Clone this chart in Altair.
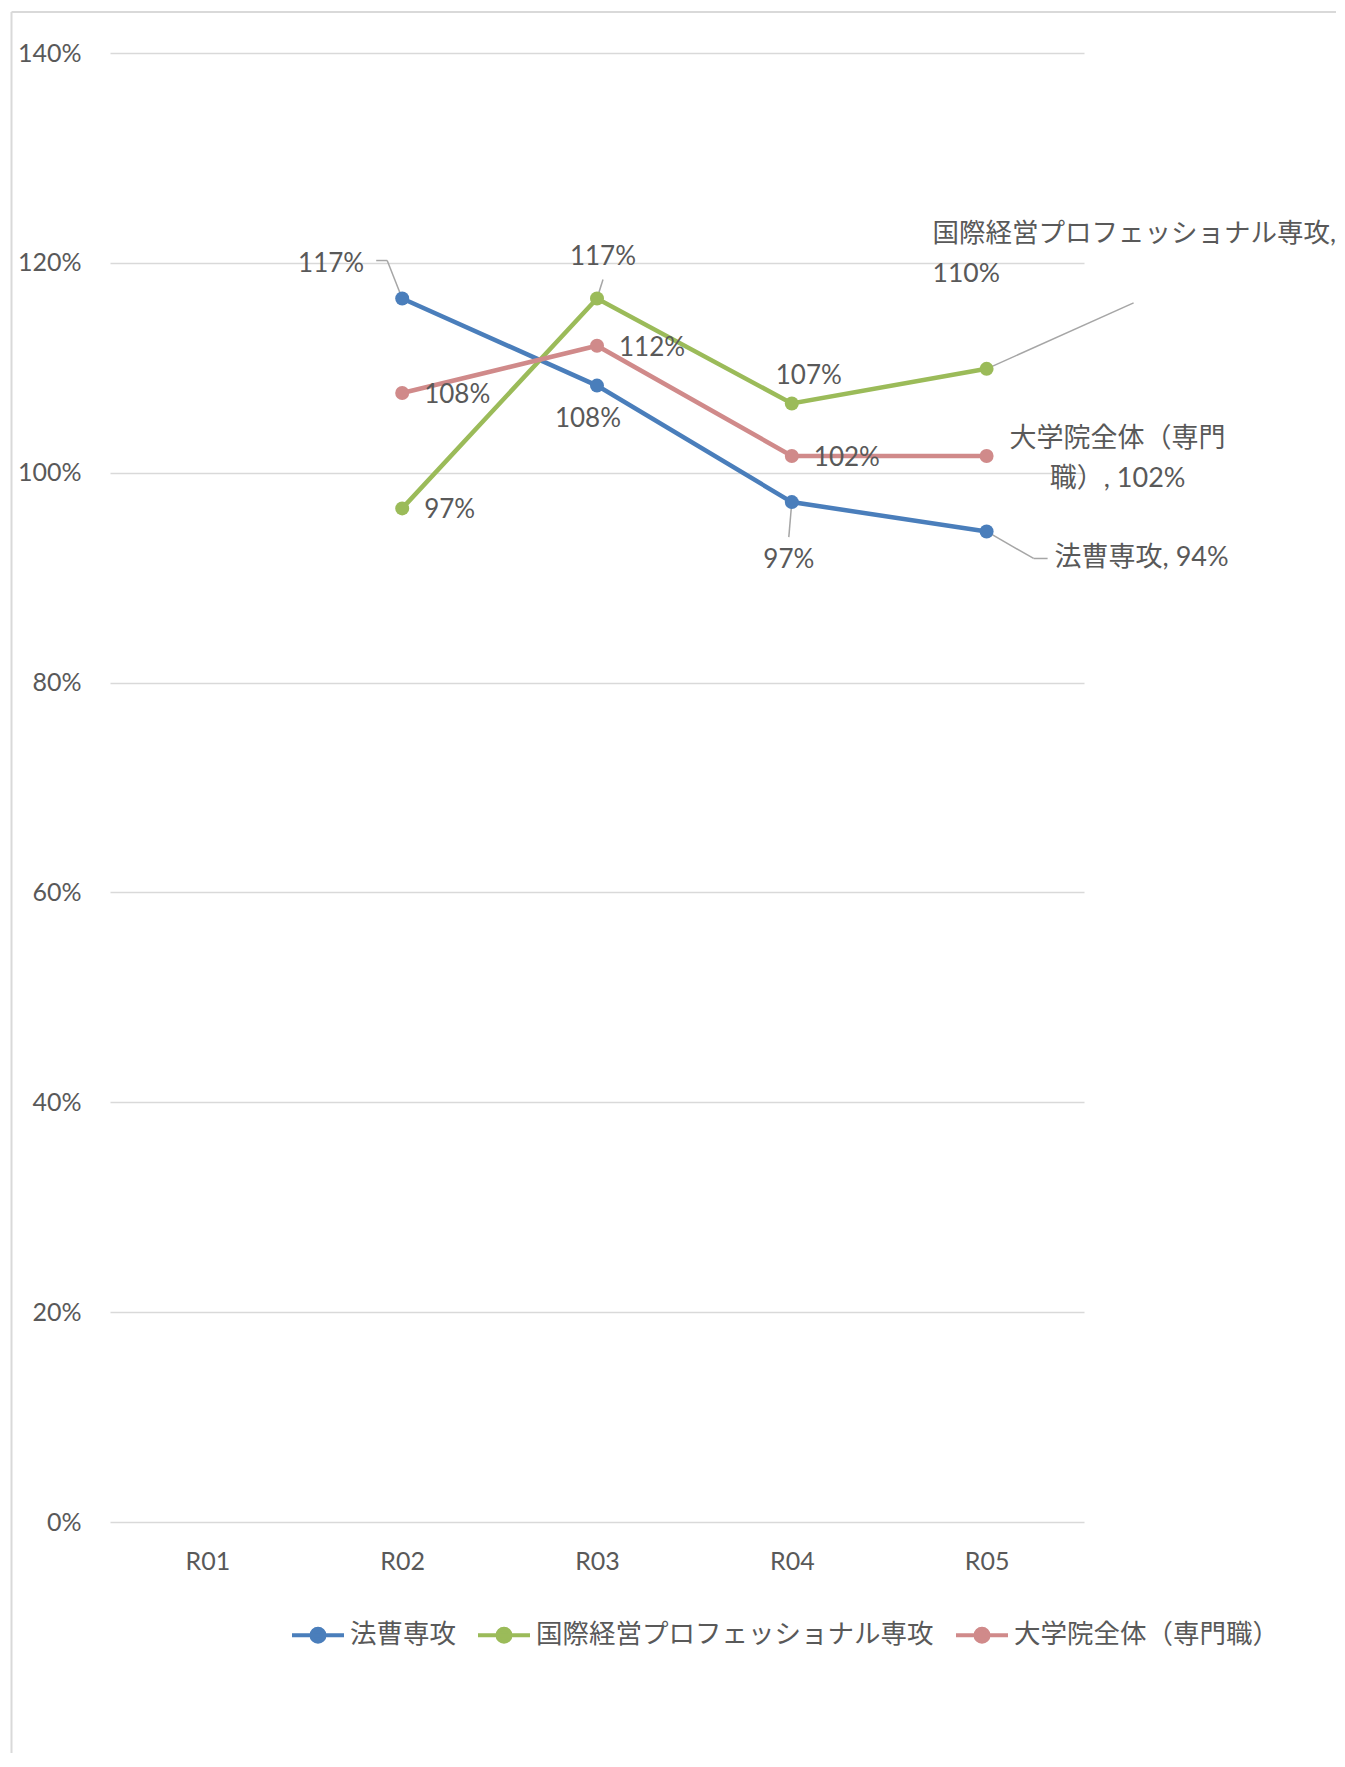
import altair as alt
import pandas as pd

categories = ["R01", "R02", "R03", "R04", "R05"]
series_names = ["法曹専攻", "国際経営プロフェッショナル専攻", "大学院全体（専門職）"]
hoso = [None, 1.166, 1.083, 0.972, 0.944]
kokusai = [None, 0.966, 1.166, 1.066, 1.099]
zentai = [None, 1.076, 1.121, 1.016, 1.016]
colors = ["#4A7EBB", "#9BBB59", "#D08A8A"]
y_ticks = [0, 0.2, 0.4, 0.6, 0.8, 1.0, 1.2, 1.4]

FONT = "Lato, 'Noto Sans CJK JP', sans-serif"
TXT = "#595959"

rows = []
for name, vals in zip(series_names, [hoso, kokusai, zentai]):
    for c, v in zip(categories, vals):
        if v is None:
            continue
        pct = f"{round(v * 100)}%"
        label = pct
        if c == "R05":
            if name == series_names[0]:
                label = f"{name}, {pct}"
            elif name == series_names[1]:
                label = f"{name},\n{pct}"
            else:
                label = f"大学院全体（専門\n職）, {pct}"
        rows.append({"series": name, "cat": c, "value": v, "label": label})
df = pd.DataFrame(rows)

xenc = alt.X("cat:O", scale=alt.Scale(type="point", padding=0.5, domain=categories),
             axis=alt.Axis(domain=False, ticks=False, grid=False, labelPadding=27,
                           labelAngle=0, labelAlign="center", labelBaseline="top",
                           title=None, labelFontSize=25, labelColor=TXT,
                           labelFont=FONT))
yenc = alt.Y("value:Q", scale=alt.Scale(domain=[0, 1.4], nice=False),
             axis=alt.Axis(values=y_ticks, format=".0%", grid=True, gridColor="#D9D9D9",
                           gridWidth=1.5, domain=False, ticks=False, labelPadding=29,
                           labelFontSize=25, labelColor=TXT, labelFont=FONT, title=None))

sym_path = "M-1,0L1,0M-0.25,0A0.25,0.25,0,1,1,0.25,0A0.25,0.25,0,1,1,-0.25,0Z"
color_enc = alt.Color(
    "series:N",
    scale=alt.Scale(domain=series_names, range=colors),
    legend=alt.Legend(orient="none", legendX=180, legendY=1554, direction="horizontal",
                      title=None, symbolType=sym_path, symbolSize=2704,
                      symbolStrokeWidth=4, labelFontSize=26.5, labelColor=TXT,
                      labelFont=FONT, labelOffset=4, columnPadding=14, labelLimit=0,
                      padding=0),
)

base = alt.Chart(df)
lines = base.mark_line(strokeWidth=4.5).encode(x=xenc, y=yenc, color=color_enc)
points = base.mark_point(filled=True, size=196, opacity=1).encode(x=xenc, y=yenc, color=color_enc)


def sel_expr(series_idx, cats):
    cats_js = ",".join(f"'{c}'" for c in cats)
    return f"datum.series === '{series_names[series_idx]}' && indexof([{cats_js}], datum.cat) >= 0"


def lbl(series_idx, cats, align, dx, dy, size=26):
    return base.transform_filter(sel_expr(series_idx, cats)).mark_text(
        align=align, baseline="middle", dx=dx, dy=dy, fontSize=size, font=FONT,
        color=TXT, lineBreak="\n", lineHeight=40).encode(
        x="cat:O", y="value:Q", text="label:N")


def leader(series_idx, cat, x0, y0, x1, y1):
    return base.transform_filter(sel_expr(series_idx, [cat])).mark_rule(
        color="#A6A6A6", strokeWidth=1.5, xOffset=x0, yOffset=y0,
        x2Offset=x1, y2Offset=y1).encode(
        x="cat:O", y="value:Q", x2="cat:O", y2="value:Q")


labels = [
    lbl(0, ["R02"], "right", -38, -35),
    lbl(0, ["R03"], "center", -9, 33),
    lbl(0, ["R04"], "center", -3, 58),
    lbl(0, ["R05"], "left", 68, 27, 27),
    lbl(1, ["R02"], "left", 22, 2),
    lbl(1, ["R03"], "center", 6, -42),
    lbl(1, ["R04"], "center", 17, -27),
    lbl(1, ["R05"], "left", -54, -135, 26.5),
    lbl(2, ["R02", "R03", "R04"], "left", 22, 2),
    lbl(2, ["R05"], "center", 131, -17, 27),
]

leaders = [
    leader(0, "R02", 0, 0, -15, -38),
    leader(0, "R02", -15, -38, -26, -38),
    leader(1, "R03", 0, 0, 6, -19),
    leader(0, "R04", 0, 0, -3, 35),
    leader(0, "R05", 0, 0, 47, 27),
    leader(0, "R05", 47, 27, 61, 27),
    leader(1, "R05", 0, 0, 147, -66),
]

one = alt.Chart(pd.DataFrame({"a": [0]}))
frame_left = one.mark_rule(color="#D9D9D9", strokeWidth=2).encode(
    x=alt.value(-98.5), y=alt.value(-41), y2=alt.value(1700))
frame_top = one.mark_rule(color="#D9D9D9", strokeWidth=2).encode(
    x=alt.value(-98.5), x2=alt.value(1226), y=alt.value(-41))

chart = alt.layer(frame_left, frame_top, *leaders, lines, points, *labels).properties(
    width=974, height=1469,
    padding={"left": 2, "top": 3, "right": 0, "bottom": 0},
).configure_view(stroke=None)

chart.save("out.html", embed_options={"renderer": "svg", "actions": False})
